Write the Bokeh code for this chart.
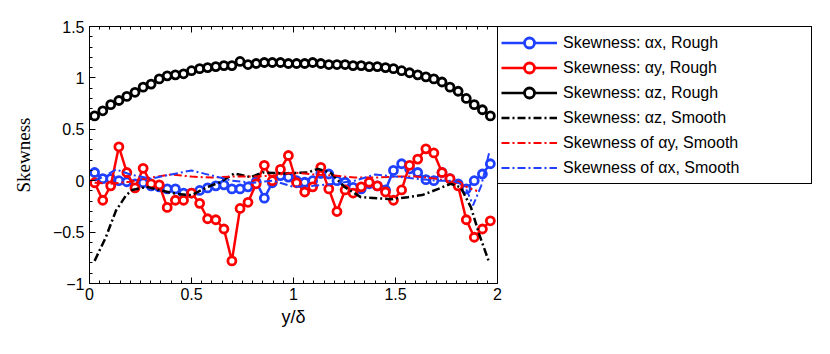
from bokeh.plotting import figure
from bokeh.models import (Legend, LegendItem, LinearAxis, Range1d,
                          SingleIntervalTicker, CustomJSTickFormatter)
from bokeh.embed import file_html
from bokeh.resources import INLINE

# ---------------- data ----------------
y_delta = [0.025, 0.065, 0.104, 0.144, 0.183, 0.223, 0.263, 0.302, 0.342, 0.381,
           0.421, 0.461, 0.500, 0.540, 0.579, 0.619, 0.659, 0.698, 0.738, 0.777,
           0.817, 0.857, 0.896, 0.936, 0.975, 1.015, 1.055, 1.094, 1.134, 1.173,
           1.213, 1.253, 1.292, 1.332, 1.371, 1.411, 1.451, 1.490, 1.530, 1.569,
           1.609, 1.649, 1.688, 1.728, 1.767, 1.807, 1.847, 1.886, 1.926, 1.965]

ax_rough = [0.08, 0.02, 0.02, 0.00, -0.01, -0.03, -0.02, -0.05, -0.06, -0.08,
            -0.08, -0.12, -0.12, -0.095, -0.07, -0.05, -0.04, -0.08, -0.08, -0.06,
            -0.01, -0.17, -0.02, 0.05, 0.035, 0.00, -0.015, 0.00, 0.07, 0.065,
            0.00, -0.015, -0.065, -0.08, -0.03, -0.05, -0.09, 0.10, 0.165, 0.115,
            0.08, 0.01, 0.00, 0.08, 0.02, -0.03, -0.08, 0.00, 0.065, 0.165]

ay_rough = [-0.02, -0.19, -0.05, 0.33, 0.08, -0.07, 0.12, -0.03, -0.04, -0.26,
            -0.19, -0.19, -0.12, -0.22, -0.37, -0.38, -0.47, -0.78, -0.27, -0.21,
            -0.03, 0.15, 0.00, 0.11, 0.245, -0.02, -0.11, -0.06, 0.13, -0.08,
            -0.30, -0.09, -0.12, -0.06, -0.015, -0.05, -0.11, -0.19, -0.09, 0.15,
            0.21, 0.31, 0.27, 0.08, 0.02, -0.05, -0.38, -0.55, -0.47, -0.39]

az_rough = [0.63, 0.68, 0.74, 0.78, 0.82, 0.86, 0.91, 0.94, 0.99, 1.02,
            1.03, 1.04, 1.07, 1.09, 1.10, 1.11, 1.12, 1.12, 1.16, 1.13,
            1.14, 1.15, 1.15, 1.15, 1.14, 1.14, 1.14, 1.15, 1.14, 1.13,
            1.13, 1.13, 1.12, 1.12, 1.11, 1.11, 1.10, 1.09, 1.07, 1.05,
            1.03, 1.01, 0.99, 0.96, 0.91, 0.87, 0.80, 0.74, 0.69, 0.63]

az_smooth_x = [0.025, 0.08, 0.13, 0.18, 0.21, 0.28, 0.35, 0.43, 0.50, 0.58,
               0.64, 0.71, 0.79, 0.85, 0.96, 1.07, 1.12, 1.18, 1.25, 1.33,
               1.48, 1.56, 1.63, 1.71, 1.77, 1.82, 1.87, 1.91, 1.96]
az_smooth = [-0.78, -0.55, -0.29, -0.14, -0.09, -0.06, -0.095, -0.13, -0.14, -0.06,
             -0.015, 0.07, 0.035, 0.08, 0.07, 0.08, 0.115, 0.08, -0.06, -0.16,
             -0.18, -0.16, -0.14, -0.08, -0.03, -0.065, -0.26, -0.52, -0.80]

ay_smooth_x = [0.025, 0.10, 0.20, 0.30, 0.40, 0.50, 0.60, 0.70, 0.80, 0.90,
               1.00, 1.10, 1.20, 1.30, 1.40, 1.50, 1.60, 1.70, 1.80, 1.86, 1.90]
ay_smooth = [-0.02, -0.03, -0.01, 0.03, 0.06, 0.04, 0.03, 0.04, 0.04, 0.05,
             0.08, 0.06, 0.05, 0.03, 0.03, 0.04, 0.04, 0.02, -0.02, -0.07, -0.10]

ax_smooth_x = [0.025, 0.07, 0.13, 0.20, 0.30, 0.40, 0.50, 0.60, 0.70, 0.80,
               0.90, 1.00, 1.10, 1.20, 1.30, 1.40, 1.50, 1.60, 1.70, 1.78,
               1.84, 1.88, 1.92, 1.96]
ax_smooth = [0.00, 0.04, 0.11, 0.06, 0.02, 0.06, 0.10, 0.05, 0.00, -0.02,
             0.00, -0.06, -0.05, -0.03, 0.00, 0.06, 0.04, 0.02, 0.00, 0.00,
             -0.05, -0.24, -0.05, 0.28]

labels = ["Skewness: \u03b1x, Rough", "Skewness: \u03b1y, Rough", "Skewness: \u03b1z, Rough",
          "Skewness: \u03b1z, Smooth", "Skewness of \u03b1y, Smooth", "Skewness of \u03b1x, Smooth"]

# ---------------- figure ----------------
BLUE = "#2040ff"
RED = "#ff0000"
BLACK = "#000000"

p = figure(width=810, height=338, frame_width=408, frame_height=257,
           x_range=Range1d(0, 2), y_range=Range1d(-1, 1.5),
           output_backend="svg", toolbar_location=None,
           min_border_left=89, min_border_top=26, min_border_bottom=55,
           min_border_right=0, background_fill_color="white",
           border_fill_color="white")
p.xgrid.visible = False
p.ygrid.visible = False
p.outline_line_color = "black"
p.outline_line_width = 1

renders = []
for ys, col in [(ax_rough, BLUE), (ay_rough, RED), (az_rough, BLACK)]:
    l = p.line(y_delta, ys, line_color=col, line_width=2.5)
    s = p.scatter(y_delta, ys, marker="circle", size=8, line_color=col,
                  line_width=2.8, fill_color="white")
    renders.append([l, s])

dd = "8 3 2 3"
l4 = p.line(az_smooth_x, az_smooth, line_color=BLACK, line_width=2.5, line_dash=dd)
l5 = p.line(ay_smooth_x, ay_smooth, line_color=RED, line_width=2, line_dash=dd)
l6 = p.line(ax_smooth_x, ax_smooth, line_color=BLUE, line_width=2, line_dash=dd)
renders += [[l4], [l5], [l6]]

fmt = CustomJSTickFormatter(code="""
var v = Math.round(tick*10)/10;
return v.toString().replace('-', '\u2212');
""")
blank = CustomJSTickFormatter(code="return '';")

for ax in [p.xaxis[0], p.yaxis[0]]:
    ax.major_tick_in = 6
    ax.major_tick_out = 0
    ax.minor_tick_in = 3
    ax.minor_tick_out = 0
    ax.axis_line_color = "black"
    ax.major_label_text_font = "Liberation Sans"
    ax.major_label_text_font_size = "16px"
    ax.major_label_text_color = "black"
    ax.axis_label_text_color = "black"
    ax.formatter = fmt
p.xaxis[0].ticker = SingleIntervalTicker(interval=0.5, num_minor_ticks=10)
p.yaxis[0].ticker = SingleIntervalTicker(interval=0.5, num_minor_ticks=5)
p.xaxis[0].major_label_standoff = 4
p.yaxis[0].major_label_standoff = 5
p.xaxis[0].axis_label = "y/\u03b4"
p.xaxis[0].axis_label_text_font = "Liberation Sans"
p.xaxis[0].axis_label_text_font_style = "normal"
p.xaxis[0].axis_label_text_font_size = "18px"
p.xaxis[0].axis_label_standoff = 4
p.yaxis[0].axis_label = "Skewness"
p.yaxis[0].axis_label_text_font = "Liberation Serif"
p.yaxis[0].axis_label_text_font_style = "normal"
p.yaxis[0].axis_label_text_font_size = "19px"
p.yaxis[0].axis_label_standoff = 16

top = LinearAxis(ticker=SingleIntervalTicker(interval=0.5, num_minor_ticks=10),
                 formatter=blank, major_tick_in=6, major_tick_out=0,
                 minor_tick_in=3, minor_tick_out=0, major_label_standoff=0)
p.add_layout(top, "above")

items = [LegendItem(label=lab, renderers=r) for lab, r in zip(labels, renders)]
legend = Legend(items=items, location="top_left", margin=0, padding=3, spacing=0,
                glyph_width=56, glyph_height=25, label_height=25, label_width=245,
                label_standoff=6, border_line_color="black", border_line_width=1,
                border_line_alpha=1, background_fill_color="white",
                background_fill_alpha=1, label_text_font="Liberation Sans",
                label_text_font_size="16px", label_text_color="black")
p.add_layout(legend, "right")

open("out.html", "w").write(file_html(p, INLINE))
